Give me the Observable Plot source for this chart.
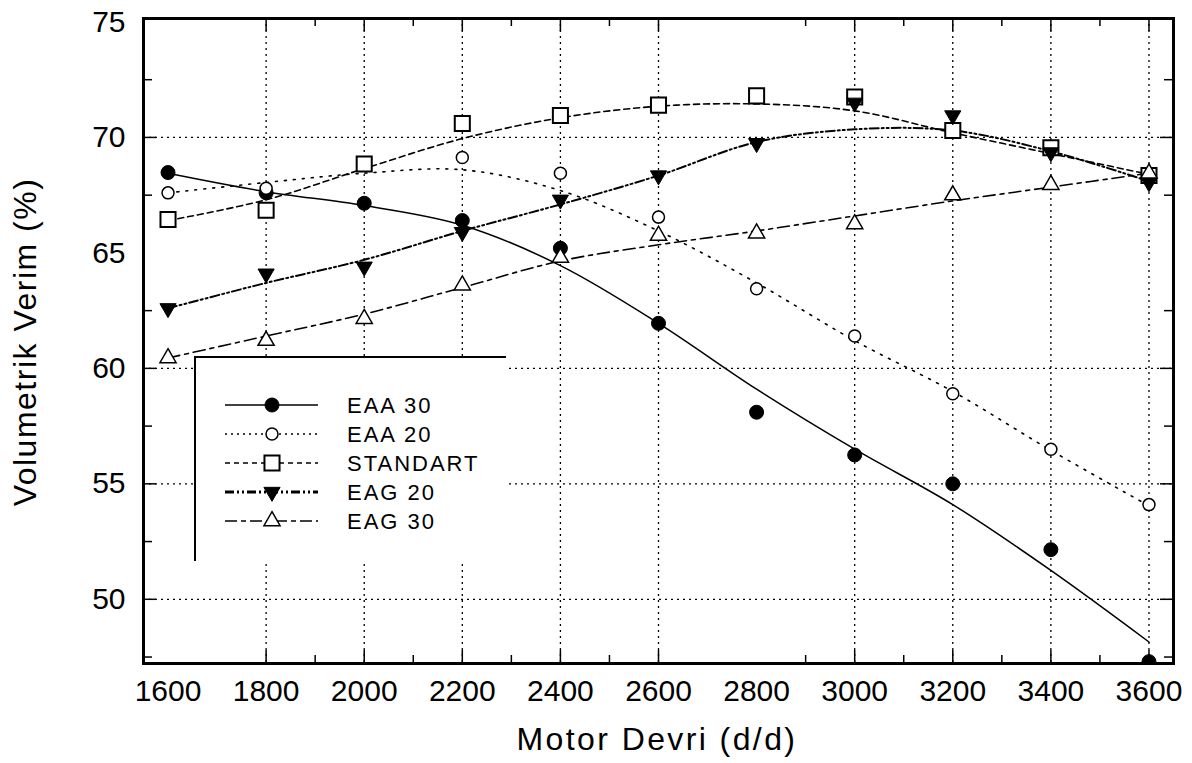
<!DOCTYPE html>
<html>
<head>
<meta charset="utf-8">
<script src="https://cdn.jsdelivr.net/npm/d3@7"></script>
<script src="https://cdn.jsdelivr.net/npm/@observablehq/plot@0.6"></script>
<style>
  body { margin: 0; background: #fff; }
  #wrap { position: relative; width: 1192px; height: 763px; overflow: hidden; }
  #legend { position: absolute; left: 194px; top: 356px; width: 312px; height: 205px;
            background: #fff; border-top: 2px solid #000; border-left: 2px solid #000; box-sizing: border-box; }
  #legend svg { position: absolute; left: -2px; top: -2px; }
</style>
</head>
<body>
<div id="wrap"></div>
<script>
// ---------- data ----------
const rpm = [1600, 1800, 2000, 2200, 2400, 2600, 2800, 3000, 3200, 3400, 3600];

const seriesNames = ["EAA 30", "EAA 20", "STANDART", "EAG 20", "EAG 30"];

// measured points
const eaa30 = [68.48, 67.6, 67.15, 66.4, 65.2, 61.95, 58.1, 56.25, 55.0, 52.15, 47.3];
const eaa20 = [67.6, 67.8, 68.85, 69.13, 68.45, 66.55, 63.45, 61.4, 58.9, 56.5, 54.1];
const standart = [66.45, 66.85, 68.85, 70.6, 70.95, 71.4, 71.8, 71.75, 70.3, 69.55, 68.35];
const eag20 = [62.6, 64.1, 64.4, 65.9, 67.3, 68.35, 69.75, 71.5, 70.95, 69.35, 68.05];
const eag30 = [60.45, 61.2, 62.15, 63.6, 64.8, 65.75, 65.85, 66.25, 67.5, 67.95, 68.45];

// fitted trend curves drawn through the points
const eaa30Fit = [68.45, 67.65, 67.05, 66.2, 64.45, 61.95, 59.1, 56.5, 54.1, 51.25, 48.15];
const eaa20Fit = [67.6, 68.05, 68.45, 68.6, 67.7, 65.95, 63.7, 61.2, 59.0, 56.45, 54.05];
const standartFit = [66.4, 67.3, 68.65, 69.95, 70.85, 71.35, 71.45, 71.15, 70.2, 69.3, 68.4];
const eag20Fit = [62.6, 63.7, 64.7, 65.95, 67.1, 68.35, 69.8, 70.35, 70.3, 69.4, 68.1];
const eag30Fit = [60.45, 61.4, 62.35, 63.5, 64.65, 65.35, 65.95, 66.6, 67.25, 67.85, 68.45];

// axis ticks
const xTickLabels = [1600, 1800, 2000, 2200, 2400, 2600, 2800, 3000, 3200, 3400, 3600];
const xMajorTicks = [1800, 2000, 2200, 2400, 2600, 3000, 3200, 3400, 3600];
const xMinorTicks = [1900, 2100, 2300, 2500, 2900, 3100, 3300, 3500];
const yTickLabels = [50, 55, 60, 65, 70, 75];
const yMajorTicks = [50, 55, 60, 70];
const yMinorTicks = [47.5, 52.5, 57.5, 62.5, 67.5, 72.5];

const xTitle = "Motor Devri (d/d)";
const yTitle = "Volumetrik Verim (%)";

// ---------- tables ----------
const pointSets = [eaa30, eaa20, standart, eag20, eag30];
const fitSets = [eaa30Fit, eaa20Fit, standartFit, eag20Fit, eag30Fit];
const pts = seriesNames.map((s, k) => rpm.map((x, i) => ({series: s, rpm: x, v: pointSets[k][i]})));
const fits = seriesNames.map((s, k) => rpm.map((x, i) => ({series: s, rpm: x, v: fitSets[k][i]})));

// ---------- styles ----------
const triangleDown = {
  draw(context, size) {
    const y = Math.sqrt(size / (Math.sqrt(3) * 3));
    context.moveTo(0, 2 * y);
    context.lineTo(Math.sqrt(3) * y, -y);
    context.lineTo(-Math.sqrt(3) * y, -y);
    context.closePath();
  }
};
const styles = [
  {dash: null, width: 1.5, symbol: "circle", r: 7, fill: "#000", stroke: "#000", sw: 1},
  {dash: "2,7", width: 1.6, symbol: "circle", r: 6, fill: "#fff", stroke: "#000", sw: 1.5},
  {dash: "6,4", width: 1.6, symbol: "square", r: 8.5, fill: "#fff", stroke: "#000", sw: 2},
  {dash: "9,3,2,3,2,3", width: 2, symbol: triangleDown, r: 6, fill: "#000", stroke: "#000", sw: 1},
  {dash: "12,5,4,5", width: 1.6, symbol: "triangle", r: 6, fill: "#fff", stroke: "#000", sw: 1.5}
];

const W = 1192, H = 763, mL = 143, mR = 19, mT = 18, mB = 100;
const innerW = W - mL - mR, innerH = H - mT - mB;
const gridDash = "2,4";

const marks = [
  Plot.ruleX(xMajorTicks, {stroke: "#000", strokeWidth: 1.3, strokeDasharray: gridDash}),
  Plot.ruleY(yMajorTicks, {stroke: "#000", strokeWidth: 1.3, strokeDasharray: gridDash}),
  // ticks (inward) bottom / top
  Plot.tickX(xMajorTicks, {stroke: "#000", strokeWidth: 1.5, insetTop: innerH - 13}),
  Plot.tickX(xMinorTicks, {stroke: "#000", strokeWidth: 1.5, insetTop: innerH - 8}),
  Plot.tickX(xMajorTicks, {stroke: "#000", strokeWidth: 1.5, insetBottom: innerH - 13}),
  Plot.tickX(xMinorTicks, {stroke: "#000", strokeWidth: 1.5, insetBottom: innerH - 8}),
  // ticks left / right
  Plot.tickY(yMajorTicks, {stroke: "#000", strokeWidth: 1.5, insetRight: innerW - 13}),
  Plot.tickY(yMinorTicks, {stroke: "#000", strokeWidth: 1.5, insetRight: innerW - 9}),
  Plot.tickY(yMajorTicks, {stroke: "#000", strokeWidth: 1.5, insetLeft: innerW - 13}),
  Plot.tickY(yMinorTicks, {stroke: "#000", strokeWidth: 1.5, insetLeft: innerW - 9})
];
fits.forEach((d, k) => {
  marks.push(Plot.line(d, {x: "rpm", y: "v", curve: "catmull-rom", stroke: "#000",
    strokeWidth: styles[k].width, strokeDasharray: styles[k].dash, clip: true}));
});
pts.forEach((d, k) => {
  const st = styles[k];
  marks.push(Plot.dot(d, {x: "rpm", y: "v", symbol: st.symbol, r: st.r, fill: st.fill,
    stroke: st.stroke, strokeWidth: st.sw, clip: true}));
});
marks.push(
  Plot.axisX({ticks: xTickLabels, tickSize: 0, tickPadding: 16, fontSize: 30, tickFormat: d => String(d), label: null}),
  Plot.axisY({ticks: yTickLabels, tickSize: 0, tickPadding: 18, fontSize: 30, tickFormat: d => String(d), label: null}),
  Plot.frame({stroke: "#000", strokeWidth: 3})
);

const chart = Plot.plot({
  width: W, height: H,
  marginLeft: mL, marginRight: mR, marginTop: mT, marginBottom: mB,
  x: {domain: [1550, 3650]},
  y: {domain: [47.22, 75.15]},
  style: {fontFamily: "'Liberation Sans', Arial, sans-serif", background: "#fff", color: "#000", overflow: "visible"},
  marks
});

const wrap = document.getElementById("wrap");
wrap.appendChild(chart);

// axis titles
const svg = d3.select(chart);
svg.append("text").attr("x", 657).attr("y", 750).attr("text-anchor", "middle")
  .attr("font-size", 32).attr("letter-spacing", "2.4px").attr("fill", "#000").text(xTitle);
svg.append("text").attr("transform", "translate(36,342) rotate(-90)").attr("text-anchor", "middle")
  .attr("font-size", 32).attr("letter-spacing", "1.5px").attr("fill", "#000").text(yTitle);

// legend
const leg = document.createElement("div");
leg.id = "legend";
wrap.appendChild(leg);
const ls = d3.select(leg).append("svg").attr("width", 312).attr("height", 205)
  .style("font-family", "'Liberation Sans', Arial, sans-serif");
const ox = 194, oy = 356;
seriesNames.forEach((name, k) => {
  const st = styles[k];
  const cy = 405 + k * 29 - oy;
  ls.append("line").attr("x1", 225 - ox).attr("x2", 318 - ox).attr("y1", cy).attr("y2", cy)
    .attr("stroke", "#000").attr("stroke-width", k === 3 ? 3 : st.width)
    .attr("stroke-dasharray", k === 1 ? "2,4" : k === 2 ? "5,4" : k === 4 ? "12,4,5,4" : st.dash);
  const type = st.symbol === "circle" ? d3.symbolCircle : st.symbol === "square" ? d3.symbolSquare
             : st.symbol === "triangle" ? d3.symbolTriangle : st.symbol;
  ls.append("path").attr("d", d3.symbol().type(type).size(Math.PI * st.r * st.r)())
    .attr("transform", `translate(${272 - ox},${cy})`)
    .attr("fill", st.fill).attr("stroke", st.stroke).attr("stroke-width", st.sw);
  ls.append("text").attr("x", 347 - ox).attr("y", cy).attr("dy", "0.36em")
    .attr("font-size", 22).attr("letter-spacing", "2px").attr("fill", "#000").text(name);
});
</script>
</body>
</html>
